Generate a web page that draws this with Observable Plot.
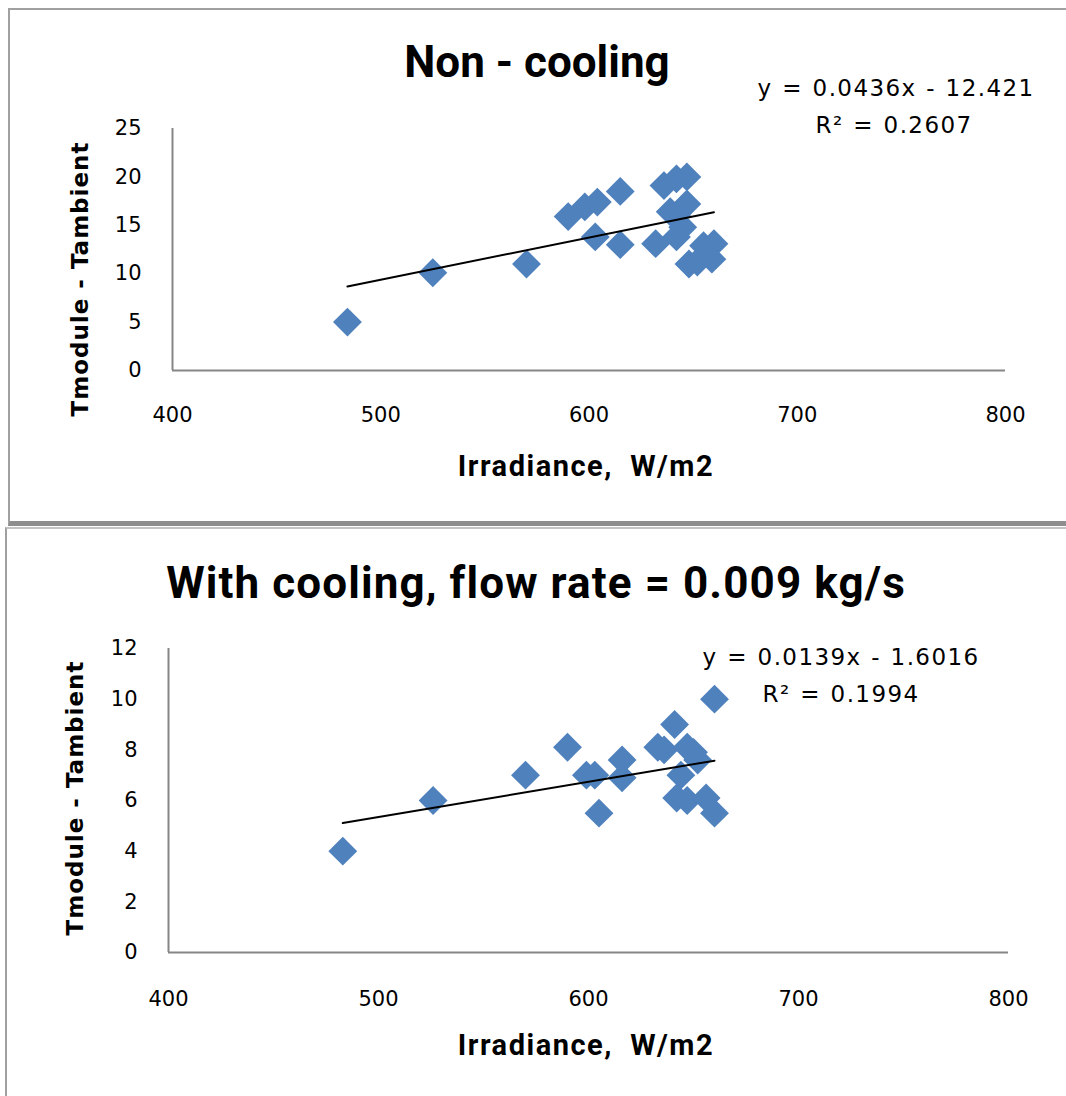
<!DOCTYPE html>
<html>
<head>
<meta charset="utf-8">
<script src="https://cdn.jsdelivr.net/npm/d3@7"></script>
<script src="https://cdn.jsdelivr.net/npm/@observablehq/plot@0.6"></script>
<style>
  html, body { margin: 0; padding: 0; background: #fff; }
  body { width: 1066px; height: 1096px; position: relative; overflow: hidden; }
  .panel { position: absolute; box-sizing: border-box; }
  #p1 { left: 8px; top: 8px; width: 1100px; height: 518px;
        border-left: 2px solid #a0a0a0; border-top: 2px solid #a0a0a0; border-bottom: 5px solid #8e8e8e; }
  #p2 { left: 5px; top: 527px; width: 1100px; height: 600px;
        border-left: 2px solid #a0a0a0; border-top: 2px solid #c4c4c4; }
  .chart { position: absolute; left: 0; }
  .title { position: absolute; font-family: Roboto, "Liberation Sans", sans-serif; font-weight: 700;
           font-size: 44px; color: #000; white-space: nowrap; transform: translate(-50%, -50%); }
  .title.wide { letter-spacing: 1.1px; }
  .eq { position: absolute; font-family: "DejaVu Sans", Verdana, sans-serif; font-size: 23px; color: #000;
        letter-spacing: 1.4px; word-spacing: 1px; white-space: nowrap; transform: translate(-50%, -50%); }
  .xlab { position: absolute; font-family: Roboto, "Liberation Sans", sans-serif; font-weight: 700;
          font-size: 29px; letter-spacing: 1.5px; color: #000; white-space: pre; transform: translate(-50%, -50%); }
  .ylab { position: absolute; font-family: "DejaVu Sans", Verdana, sans-serif; font-weight: 700;
          font-size: 23px; letter-spacing: 1px; color: #000; white-space: nowrap; transform: translate(-50%, -50%) rotate(-90deg); }
</style>
</head>
<body>
<div class="panel" id="p1"></div>
<div class="panel" id="p2"></div>
<div id="charts"></div>
<script>
// ---------- data ----------
const chartTitles = ["Non - cooling", "With cooling, flow rate = 0.009 kg/s"];
const xLabel = "Irradiance,  W/m2";
const yLabel = "Tmodule - Tambient";
const xTicks = [400, 500, 600, 700, 800];

// Non-cooling
const irrNon = [484, 525, 570, 590, 598, 604, 603, 615, 615, 632, 636, 642, 647, 639, 647, 642, 645, 642, 648, 652, 655, 660, 659];
const dTNon  = [5.0, 10.1, 11.0, 15.9, 16.9, 17.4, 13.8, 18.5, 13.0, 13.1, 19.1, 19.8, 20.0, 16.4, 17.2, 16.0, 14.8, 13.8, 11.0, 11.2, 12.9, 13.1, 11.5];
const yTicksNon = [0, 5, 10, 15, 20, 25];

// With cooling
const irrCool = [483, 526, 570, 590, 599, 603, 605, 616, 616, 633, 636, 641, 644, 647, 652, 642, 647, 656, 660, 660, 650];
const dTCool  = [4.0, 6.0, 7.0, 8.1, 7.0, 7.0, 5.5, 7.6, 6.9, 8.1, 8.0, 9.0, 7.0, 8.1, 7.6, 6.1, 6.0, 6.1, 5.5, 10.0, 7.9];
const yTicksCool = [0, 2, 4, 6, 8, 10, 12];

// Trend lines (Excel linear fit)
const slopes = [0.0436, 0.0139];
const intercepts = [-12.421, -1.6016];
const r2s = [0.2607, 0.1994];

// ---------- drawing ----------
const blue = "#4f81bd";
const axisGray = "#868686";

function makeChart(cfg) {
  const pts = cfg.xs.map((x, i) => ({x, y: cfg.ys[i]}));
  const x0 = d3.min(cfg.xs), x1 = d3.max(cfg.xs);
  const trend = [x0, x1].map(x => ({x, y: cfg.slope * x + cfg.intercept}));
  return Plot.plot({
    width: 1066,
    height: cfg.height,
    marginLeft: cfg.ml, marginRight: cfg.mr, marginTop: cfg.mt, marginBottom: cfg.mb,
    style: {fontFamily: "'DejaVu Sans', Verdana, sans-serif", fontSize: "21px", color: "#000", background: "transparent"},
    x: {domain: [400, 800], ticks: xTicks, tickSize: 0, tickPadding: cfg.xpad, label: null, tickFormat: d => String(d)},
    y: {domain: [cfg.yTicks[0], cfg.yTicks[cfg.yTicks.length - 1]], ticks: cfg.yTicks, tickSize: 0, tickPadding: cfg.ypad, label: null, tickFormat: d => String(d)},
    marks: [
      Plot.ruleX([400], {stroke: axisGray, strokeWidth: 2}),
      Plot.ruleY([cfg.yTicks[0]], {stroke: axisGray, strokeWidth: 2}),
      Plot.dot(pts, {x: "x", y: "y", symbol: "diamond2", r: 13, fill: blue, stroke: null}),
      Plot.line(trend, {x: "x", y: "y", stroke: "#000", strokeWidth: 2})
    ]
  });
}

const container = document.getElementById("charts");

const c1 = makeChart({xs: irrNon, ys: dTNon, yTicks: yTicksNon, slope: slopes[0], intercept: intercepts[0],
  height: 520, ml: 172, mr: 61, mt: 128, mb: 150, xpad: 37, ypad: 31});
c1.classList.add("chart"); c1.style.top = "0px";
container.appendChild(c1);

const c2 = makeChart({xs: irrCool, ys: dTCool, yTicks: yTicksCool, slope: slopes[1], intercept: intercepts[1],
  height: 569, ml: 168, mr: 58, mt: 121, mb: 144, xpad: 39, ypad: 31});
c2.classList.add("chart"); c2.style.top = "527px";
container.appendChild(c2);

function addDiv(cls, text, x, y) {
  const d = document.createElement("div");
  d.className = cls; d.textContent = text;
  d.style.left = x + "px"; d.style.top = y + "px";
  document.body.appendChild(d);
  return d;
}
function eqText(i) {
  const s = slopes[i], b = intercepts[i];
  return "y = " + s + "x " + (b < 0 ? "- " : "+ ") + Math.abs(b);
}
function r2Text(i) { return "R\u00b2 = " + r2s[i]; }

addDiv("title", chartTitles[0], 537, 62);
addDiv("title wide", chartTitles[1], 536, 583);
addDiv("eq", eqText(0), 896, 88);
addDiv("eq", r2Text(0), 894, 125);
addDiv("eq", eqText(1), 841, 657);
addDiv("eq", r2Text(1), 841, 694);
addDiv("xlab", xLabel, 586, 466);
addDiv("xlab", xLabel, 586, 1045);
addDiv("ylab", yLabel, 80, 279);
addDiv("ylab", yLabel, 75, 798);
</script>
</body>
</html>
